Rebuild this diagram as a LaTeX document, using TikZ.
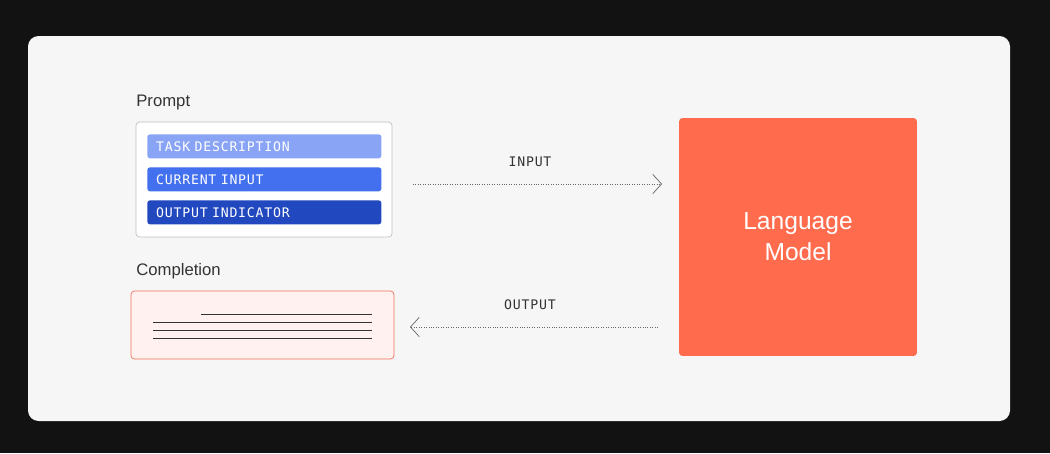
\documentclass[tikz,border=0pt]{standalone}
\usepackage{fontspec}
\setmainfont{Liberation Sans}
\newfontfamily\labelfont[LetterSpace=6]{DejaVu Sans Mono}
\usetikzlibrary{arrows.meta,positioning}
\definecolor{panelgray}{HTML}{F6F6F6}
\definecolor{taskblue}{HTML}{8AA4F5}
\definecolor{inputblue}{HTML}{4270EE}
\definecolor{outblue}{HTML}{2148BF}
\definecolor{lmred}{HTML}{FF6B4D}
\definecolor{complfill}{HTML}{FFF1EF}
\definecolor{complline}{HTML}{F0705A}
\tikzset{
  bar/.style={draw=none, rounded corners=1.5pt, minimum width=4.68cm, minimum height=0.48cm,
    text=white, font=\labelfont\fontsize{7.5}{9}\selectfont, anchor=north west,
    inner xsep=5pt, inner ysep=0pt, text width=4.33cm, align=left},
  title/.style={anchor=west, font=\fontsize{9.5}{11}\selectfont, text=black!80, inner sep=0pt},
  flow/.style={densely dotted, draw=black!60, -{Straight Barb[length=5pt,width=11pt]}},
  flowlabel/.style={font=\labelfont\fontsize{7.5}{9}\selectfont, text=black!80}
}
\begin{document}
\begin{tikzpicture}[x=0.02cm,y=-0.02cm]
  % background
  \fill[black!93] (0,0) rectangle (1050,453);
  \fill[panelgray, rounded corners=6pt] (28,36) rectangle (1010,421);
  % prompt
  \node[title] (promptlabel) at (136,102) {Prompt};
  \draw[black!25, fill=white, rounded corners=2pt] (136,122) rectangle (392,237);
  \node[bar, fill=taskblue] (task) at (147,134) {TASK DESCRIPTION};
  \node[bar, fill=inputblue] (current) at (147,167) {CURRENT INPUT};
  \node[bar, fill=outblue] (indicator) at (147,200) {OUTPUT INDICATOR};
  % completion
  \node[title] (compllabel) at (136,271) {Completion};
  \draw[complline, fill=complfill, rounded corners=2pt] (131,291) rectangle (394,359);
  \draw[black!80] (201,314) -- (372,314);
  \foreach \y in {322,330,338}
    \draw[black!80] (153,\y) -- (372,\y);
  % model
  \node[fill=lmred, rounded corners=2pt, minimum width=4.76cm, minimum height=4.76cm, text=white,
    align=center, font=\fontsize{14}{17.5}\selectfont] (model) at (798,237) {Language\\Model};
  % arrows
  \coordinate (inA) at (413,184);
  \coordinate (inB) at (662,184);
  \coordinate (outA) at (658,327);
  \coordinate (outB) at (410,327);
  \draw[flow] (inA) -- (inB);
  \draw[flow] (outA) -- (outB);
  \node[flowlabel] (inlabel) at (530,162) {INPUT};
  \node[flowlabel] (outlabel) at (530,305) {OUTPUT};
\end{tikzpicture}
\end{document}
